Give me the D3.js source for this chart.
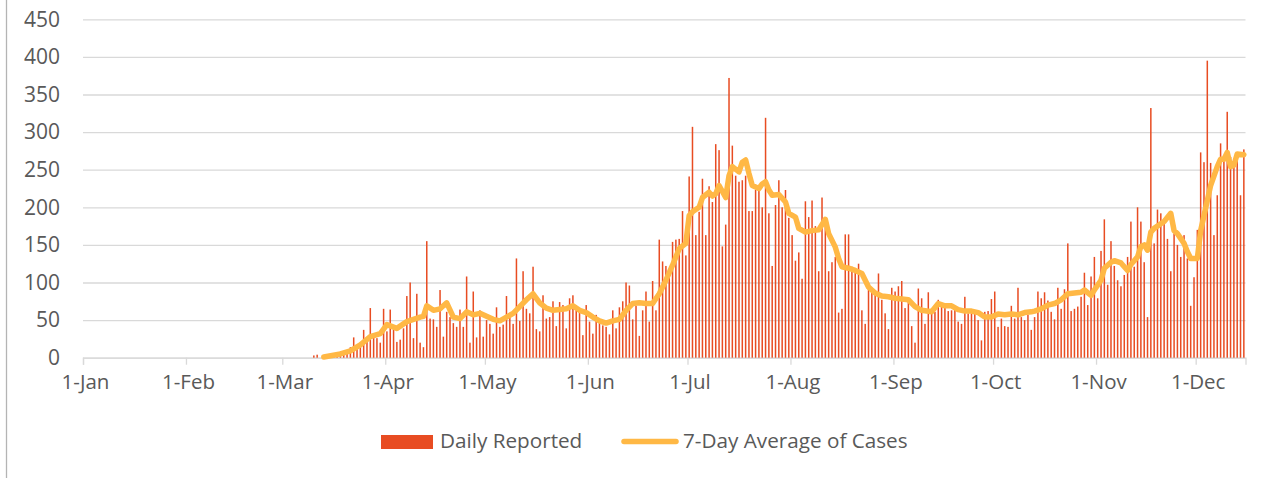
<!DOCTYPE html>
<html>
<head>
<meta charset="utf-8">
<script src="https://cdnjs.cloudflare.com/ajax/libs/d3/7.8.5/d3.min.js"></script>
<style>
  body { margin: 0; background: #fff; }
  svg text { font-family: "Open Sans", sans-serif; fill: #595959; }
</style>
</head>
<body>
<div id="chart"></div>
<script>
// Daily reported cases, one value per day starting at firstDay
var firstDay = "3/10/2020";
var dailyReported = [
  3, 4, 0, 1, 2, 4, 3, 6, 8, 9,
  5, 14, 27, 17, 19, 37, 21, 66, 32, 26,
  20, 65, 35, 64, 37, 21, 24, 39, 82, 100,
  26, 85, 20, 14, 155, 52, 51, 41, 90, 28,
  61, 54, 46, 41, 64, 41, 108, 20, 88, 27,
  63, 28, 50, 45, 32, 67, 41, 44, 82, 54,
  45, 132, 49, 115, 65, 59, 121, 38, 35, 83,
  52, 54, 75, 42, 74, 70, 39, 79, 83, 63,
  61, 30, 70, 48, 32, 57, 46, 43, 41, 31,
  63, 39, 67, 75, 100, 96, 51, 69, 29, 63,
  88, 48, 102, 63, 157, 128, 122, 108, 154, 157,
  158, 195, 136, 241, 307, 163, 194, 238, 163, 228,
  207, 284, 276, 148, 177, 372, 282, 242, 234, 236,
  242, 195, 195, 223, 223, 200, 319, 192, 122, 203,
  236, 200, 223, 186, 163, 129, 140, 105, 208, 187,
  209, 175, 115, 213, 186, 115, 127, 134, 60, 65,
  164, 164, 121, 116, 125, 63, 45, 99, 90, 88,
  112, 77, 59, 38, 93, 88, 95, 102, 66, 74,
  42, 20, 92, 79, 45, 87, 59, 61, 77, 70,
  67, 62, 63, 67, 48, 45, 81, 59, 59, 63,
  50, 23, 61, 62, 78, 88, 41, 52, 42, 41,
  69, 52, 93, 54, 50, 57, 37, 54, 88, 79,
  87, 76, 61, 51, 93, 65, 91, 152, 62, 65,
  68, 81, 113, 70, 108, 134, 79, 142, 184, 97,
  155, 122, 103, 95, 110, 134, 181, 121, 200, 181,
  127, 54, 332, 152, 197, 192, 183, 158, 115, 165,
  150, 134, 163, 132, 69, 107, 170, 273, 260, 395,
  259, 163, 216, 285, 268, 327, 267, 256, 268, 216,
  277
];

// 7-day average
var avgDates = [
  "3/13", "3/18", "3/21", "3/24", "3/27", "3/30", "4/1", "4/4", "4/7", "4/9",
  "4/11", "4/12", "4/13", "4/15", "4/17", "4/19", "4/21", "4/23", "4/25", "4/27",
  "4/29", "5/1", "5/3", "5/5", "5/7", "5/9", "5/11", "5/13", "5/15", "5/17",
  "5/19", "5/21", "5/23", "5/25", "5/27", "5/29", "5/31", "6/2", "6/4", "6/6",
  "6/8", "6/10", "6/12", "6/14", "6/16", "6/18", "6/20", "6/22", "6/24", "6/26",
  "6/28", "6/30", "7/1", "7/2", "7/4", "7/5", "7/7", "7/8", "7/9", "7/10",
  "7/12", "7/13", "7/14", "7/16", "7/17", "7/18", "7/19", "7/20", "7/22", "7/23",
  "7/24", "7/25", "7/26", "7/28", "7/30", "7/31", "8/2", "8/3", "8/5", "8/7",
  "8/9", "8/11", "8/12", "8/14", "8/15", "8/16", "8/18", "8/20", "8/22", "8/24",
  "8/26", "8/28", "8/30", "9/1", "9/3", "9/5", "9/7", "9/9", "9/12", "9/14",
  "9/16", "9/18", "9/20", "9/22", "9/24", "9/26", "9/28", "9/30", "10/2", "10/4",
  "10/6", "10/8", "10/10", "10/12", "10/13", "10/15", "10/17", "10/19", "10/21", "10/23",
  "10/25", "10/27", "10/28", "10/30", "10/31", "11/2", "11/3", "11/5", "11/6", "11/8",
  "11/10", "11/11", "11/13", "11/14", "11/15", "11/16", "11/17", "11/18", "11/20", "11/21",
  "11/23", "11/24", "11/25", "11/27", "11/28", "11/29", "12/1", "12/2", "12/4", "12/5",
  "12/7", "12/8", "12/9", "12/10", "12/11", "12/12", "12/13", "12/15"
];
var avgValues = [
  1, 5, 9, 17, 28, 32, 44, 39, 48, 51,
  54, 55, 69, 63, 65, 73, 54, 52, 61, 57,
  59, 55, 51, 49, 54, 59, 68, 77, 85, 73,
  66, 63, 64, 65, 69, 63, 60, 54, 49, 46,
  49, 51, 63, 72, 73, 72, 72, 85, 103, 123,
  145, 152, 189, 194, 200, 213, 220, 215, 218, 229,
  213, 242, 254, 247, 260, 263, 245, 229, 225, 231,
  234, 223, 216, 217, 207, 192, 187, 172, 167, 169,
  170, 184, 165, 147, 132, 121, 119, 116, 112, 94,
  86, 82, 81, 79, 78, 77, 68, 63, 61, 72,
  69, 69, 64, 62, 62, 60, 54, 54, 58, 57,
  58, 57, 60, 61, 62, 65, 70, 72, 77, 85,
  86, 87, 90, 83, 90, 103, 119, 127, 129, 126,
  116, 124, 134, 148, 150, 143, 167, 172, 178, 181,
  192, 169, 165, 152, 141, 132, 132, 169, 209, 229,
  254, 264, 264, 273, 254, 256, 271, 270
];

var yTicks = [0, 50, 100, 150, 200, 250, 300, 350, 400, 450];
var monthTicks = ["1/1", "2/1", "3/1", "4/1", "5/1", "6/1", "7/1", "8/1", "9/1", "10/1", "11/1", "12/1"];
var monthLabels = ["1-Jan", "1-Feb", "1-Mar", "1-Apr", "1-May", "1-Jun", "1-Jul", "1-Aug", "1-Sep", "1-Oct", "1-Nov", "1-Dec"];

var svgWidth = 1271;
var svgHeight = 478;

var margin = {
  top: 19.3,
  right: 25.5,
  bottom: 120.3,
  left: 83
};

var width = svgWidth - margin.left - margin.right;
var height = svgHeight - margin.top - margin.bottom;

var parseDay = d3.timeParse("%m/%d/%Y");
function toDate(md) { return parseDay(md + "/2020"); }

var start = parseDay(firstDay);
var daily = dailyReported.map(function(v, i) {
  return { date: d3.timeDay.offset(start, i), value: v };
});
var avg = avgDates.map(function(md, i) {
  return { date: toDate(md), value: avgValues[i] };
});

var svg = d3.select("#chart")
  .append("svg")
  .attr("width", svgWidth)
  .attr("height", svgHeight);

// frame edge on the left
svg.append("line")
  .attr("x1", 6.5).attr("x2", 6.5)
  .attr("y1", 0).attr("y2", svgHeight)
  .attr("stroke", "#b4b4b4")
  .attr("stroke-width", 1.3);

var chartGroup = svg.append("g")
  .attr("transform", `translate(${margin.left}, ${margin.top})`);

var xTimeScale = d3.scaleTime()
  .domain([new Date(2020, 0, 1), new Date(2020, 11, 16)])
  .range([0, width]);

var yLinearScale = d3.scaleLinear()
  .domain([0, 450])
  .range([height, 0]);

// each day sits in the middle of its slot
function xMid(d) { return xTimeScale(d3.timeHour.offset(d, 12)); }

// y axis with gridlines
var leftAxis = d3.axisLeft(yLinearScale)
  .tickValues(yTicks)
  .tickSize(-width)
  .tickPadding(23);

var yAxis = chartGroup.append("g").call(leftAxis);
yAxis.select(".domain").remove();
yAxis.selectAll(".tick line")
  .attr("stroke", "#d9d9d9")
  .attr("stroke-width", 1.3);
yAxis.selectAll("text")
  .style("font-size", "21px");

// x axis
var bottomAxis = d3.axisBottom(xTimeScale)
  .tickValues(monthTicks.map(toDate))
  .tickSize(7)
  .tickFormat(function(d, i) { return monthLabels[i]; });

var xAxis = chartGroup.append("g")
  .attr("transform", `translate(0, ${height})`)
  .call(bottomAxis);
xAxis.select(".domain")
  .attr("stroke", "#d9d9d9")
  .attr("stroke-width", 1.3);
xAxis.selectAll(".tick line")
  .attr("stroke", "#d9d9d9")
  .attr("stroke-width", 1.3);
xAxis.selectAll("text")
  .attr("y", 17)
  .attr("dx", 2)
  .style("font-size", "20.5px");

// daily bars
chartGroup.selectAll(".bar")
  .data(daily)
  .enter()
  .append("rect")
  .classed("bar", true)
  .attr("x", d => xMid(d.date) - 0.75)
  .attr("width", 1.5)
  .attr("y", d => yLinearScale(d.value))
  .attr("height", d => height - yLinearScale(d.value))
  .attr("fill", "#e84c22");

// 7-day average line
var avgLine = d3.line()
  .x(d => xMid(d.date))
  .y(d => yLinearScale(d.value));

chartGroup.append("path")
  .datum(avg)
  .attr("d", avgLine)
  .attr("fill", "none")
  .attr("stroke", "#ffb845")
  .attr("stroke-width", 5.5)
  .attr("stroke-linejoin", "round")
  .attr("stroke-linecap", "round");

// legend
var legend = svg.append("g");

legend.append("rect")
  .attr("x", 381)
  .attr("y", 435)
  .attr("width", 52)
  .attr("height", 14)
  .attr("fill", "#e84c22");

legend.append("text")
  .attr("x", 440)
  .attr("y", 441)
  .attr("dy", "0.35em")
  .style("font-size", "20.7px")
  .text("Daily Reported");

legend.append("line")
  .attr("x1", 624)
  .attr("x2", 676)
  .attr("y1", 441.5)
  .attr("y2", 441.5)
  .attr("stroke", "#ffb845")
  .attr("stroke-width", 5.5)
  .attr("stroke-linecap", "round");

legend.append("text")
  .attr("x", 683)
  .attr("y", 441)
  .attr("dy", "0.35em")
  .style("font-size", "20.7px")
  .text("7-Day Average of Cases");
</script>
</body>
</html>
